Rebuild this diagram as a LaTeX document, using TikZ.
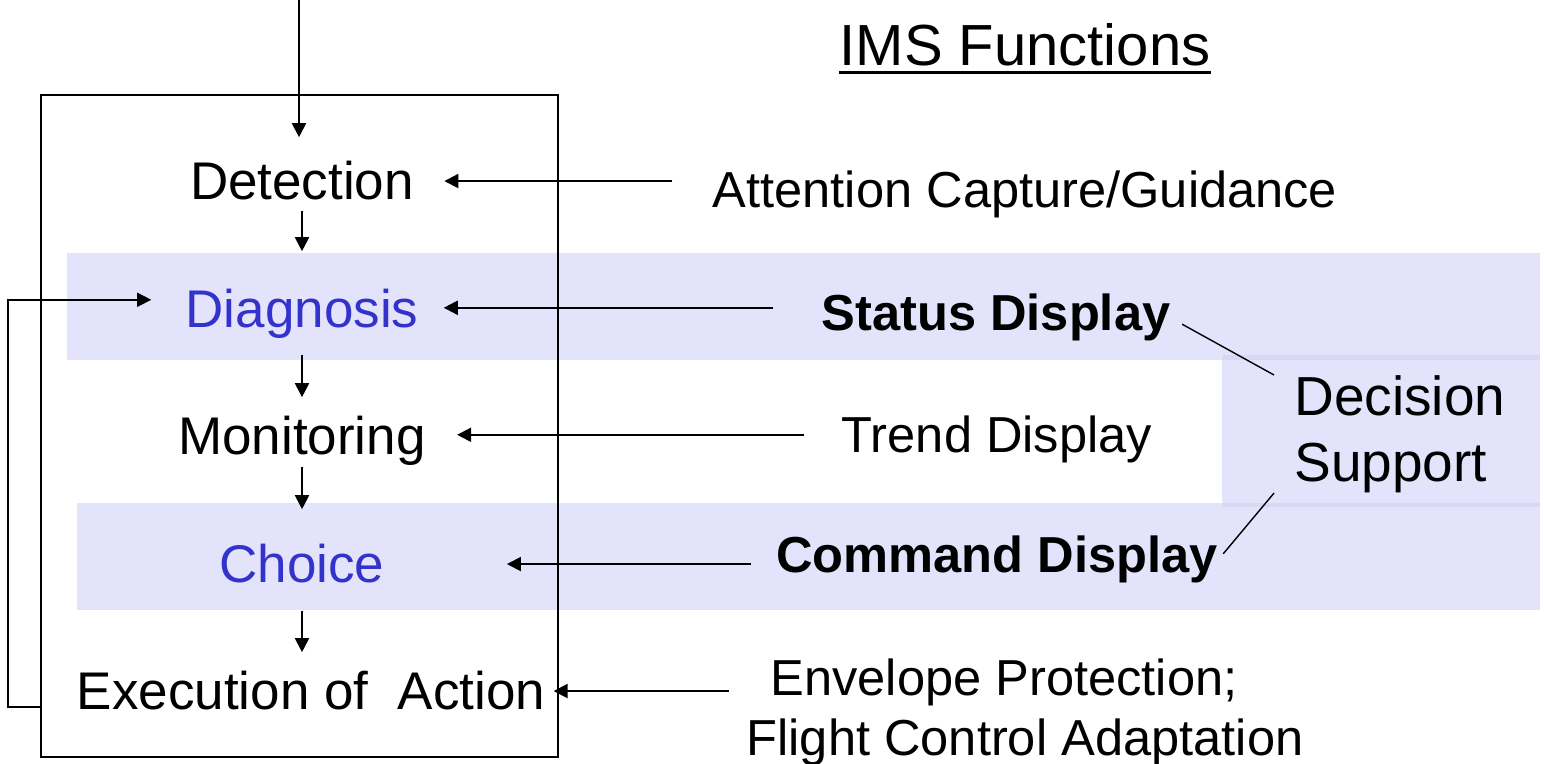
\documentclass[tikz,border=0pt]{standalone}
\usepackage{fontspec}
\setmainfont{Liberation Sans}
\usetikzlibrary{arrows.meta,calc}
\definecolor{band}{RGB}{227,227,251}
\definecolor{bandedge}{RGB}{215,215,246}
\definecolor{stageblue}{RGB}{51,51,204}
\tikzset{
  arr/.style={line width=1pt, -{Triangle[length=7pt,width=7pt]}},
  link/.style={line width=0.7pt},
  stage/.style={inner sep=0pt, anchor=base, font=\fontsize{26.5}{32}\selectfont},
  func/.style={inner sep=0pt, anchor=base, font=\fontsize{25.3}{30}\selectfont},
  hilite/.style={text=stageblue},
}
\begin{document}
\begin{tikzpicture}[x=0.5pt,y=-0.5pt]
\useasboundingbox (0,0) rectangle (1544,764);

% shaded rows
\fill[band] (67,253) rectangle (1540,360);
\fill[band] (1222,355) rectangle (1540,507);
\fill[band] (77,503) rectangle (1540,610);
\fill[bandedge] (1222,355) rectangle (1540,360);
\fill[bandedge] (1222,503) rectangle (1540,507);

% frame round the pilot's stages
\node[draw, line width=0.6pt, minimum width=258.5pt, minimum height=331pt, inner sep=0pt] (box) at (299.5,426) {};

% stages
\node[stage] (det) at (302,200) {Detection};
\node[stage, hilite] (dia) at (302,328) {Diagnosis};
\node[stage] (mon) at (302,455) {Monitoring};
\node[stage, hilite] (cho) at (302,583) {Choice};
\node[stage] (exe) at (311,710) {Execution of\ \ Action};

% functions
\node[anchor=base, inner sep=0pt, font=\fontsize{29}{34}\selectfont] (ims) at (1025,66) {IMS Functions};
\draw[line width=1.6pt] ([yshift=-3.2pt]ims.base west) -- ([yshift=-3.2pt]ims.base east);
\node[func] (att) at (1025,208) {Attention Capture/Guidance};
\node[func, font=\fontsize{25.3}{30}\selectfont\bfseries] (stat) at (996,331) {Status Display};
\node[func] (trend) at (997,453) {Trend Display};
\node[func, font=\fontsize{25.3}{30}\selectfont\bfseries] (cmd) at (997,573) {Command Display};
\node[func] (env) at (1004,696) {Envelope Protection;};
\node[func] (flt) at (1025,755) {Flight Control Adaptation};
\node[anchor=north west, align=left, inner xsep=10pt, inner ysep=0pt,
      font=\fontsize{27.5}{33}\selectfont] (ds) at (1274,375) {Decision\\Support};

% flow through the stages
\coordinate (src) at (299,0);
\draw[arr, shorten >=12pt] (src) -- (src |- det.north);
\draw[arr, shorten <=5pt, shorten >=19pt] (det.south) -- (det.south |- dia.north);
\draw[arr, shorten <=8pt, shorten >=9.5pt] (dia.south) -- (dia.south |- mon.north);
\draw[arr, shorten <=0.5pt, shorten >=17.5pt] (mon.south) -- (mon.south |- cho.north);
\draw[arr, shorten <=13.5pt, shorten >=9.5pt] (cho.south) -- (cho.south |- exe.north);

% feedback loop
\coordinate (fb) at (41,707);
\draw[arr, line width=0.8pt, shorten >=17pt] (fb) -- ++(-33,0) |- ($(dia.west)+(0,7.25pt)$);

% functions feeding the stages
\draw[arr, shorten <=20pt, shorten >=15pt] (det.east -| att.west) -- (det.east);
\draw[arr, shorten <=24pt, shorten >=12.5pt] ($(dia.east -| stat.west)+(0,3.25pt)$) -- ($(dia.east)+(0,3.25pt)$);
\draw[arr, shorten <=18.5pt, shorten >=15.5pt] ($(mon.east -| trend.west)+(0,3.25pt)$) -- ($(mon.east)+(0,3.25pt)$);
\draw[arr, shorten <=12.5pt, shorten >=61pt] (cho.east -| cmd.west) -- (cho.east);
\draw[arr, shorten <=20.5pt, shorten >=4pt] (exe.east -| env.west) -- (exe.east);

% decision support links
\draw[link, shorten <=6.5pt] (stat.east) -- (ds.north west);
\draw[link, shorten >=4pt] (ds.south west) -- (cmd.east);
\end{tikzpicture}
\end{document}
